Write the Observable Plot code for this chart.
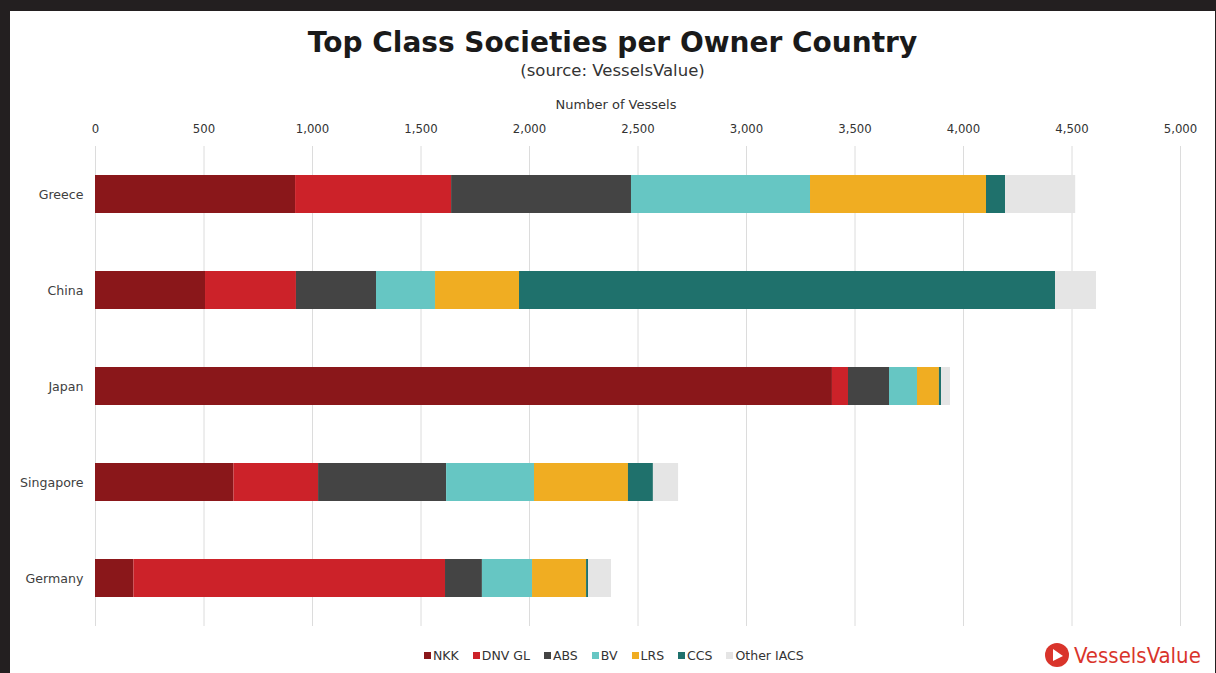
<!DOCTYPE html>
<html>
<head>
<meta charset="utf-8">
<script src="https://cdn.jsdelivr.net/npm/d3@7"></script>
<script src="https://cdn.jsdelivr.net/npm/@observablehq/plot@0.6"></script>
<style>
  html, body { margin: 0; padding: 0; background: #231F20; width: 1216px; height: 673px; overflow: hidden; }
  #panel { position: absolute; left: 10px; top: 11px; width: 1205px; height: 662px; background: #fff; font-family: "DejaVu Sans", sans-serif; color: #333; }
  #title { position: absolute; left: 0; width: 1205px; top: 15px; text-align: center; font-weight: bold; font-size: 28px; color: #1a1a1a; }
  #subtitle { position: absolute; left: 0; width: 1205px; top: 50px; text-align: center; font-size: 16.5px; color: #333; }
  #xlabel { position: absolute; left: 0; width: 1212px; text-align: center; top: 86px; font-size: 13px; color: #333; }
  #chart { position: absolute; left: 0; top: 79px; }
  #legend { position: absolute; left: 414px; top: 637px; display: flex; font-size: 12.5px; color: #333; align-items: center; }
  #legend .item { display: flex; align-items: center; margin-right: 14px; }
  #legend .sw { width: 7px; height: 7px; margin-right: 2px; }
  #logo { position: absolute; left: 1034px; top: 631px; display: flex; align-items: center; color: #D9342B; font-family: "DejaVu Sans Condensed", "DejaVu Sans", sans-serif; font-size: 22px; }
</style>
</head>
<body>
<div id="panel">
  <div id="title">Top Class Societies per Owner Country</div>
  <div id="subtitle">(source: VesselsValue)</div>
  <div id="xlabel">Number of Vessels</div>
  <div id="chart"></div>
  <div id="legend"></div>
  <div id="logo"><svg width="26" height="26" viewBox="0 0 26 26" style="margin-right:4px"><circle cx="13" cy="13" r="12" fill="#D9342B"/><path d="M9 7 L19 14 L9 19 Z" fill="#fff"/></svg><span>VesselsValue</span></div>
</div>
<script>
const countries = ["Greece", "China", "Japan", "Singapore", "Germany"];
const societies = ["NKK", "DNV GL", "ABS", "BV", "LRS", "CCS", "Other IACS"];
const colors = ["#8A171A", "#CC2229", "#444444", "#66C6C3", "#F0AD22", "#1F716C", "#E5E5E5"];
const NKK   = [922, 507, 3396, 638, 177];
const DNVGL = [719, 419, 74, 390, 1436];
const ABS   = [829, 369, 189, 590, 170];
const BV    = [825, 272, 129, 405, 231];
const LRS   = [811, 387, 101, 433, 249];
const CCS   = [88, 2470, 10, 115, 9];
const Other = [323, 189, 41, 116, 106];
const xTicks = [0, 500, 1000, 1500, 2000, 2500, 3000, 3500, 4000, 4500, 5000];

const series = [NKK, DNVGL, ABS, BV, LRS, CCS, Other];
const data = [];
societies.forEach((s, i) => {
  countries.forEach((c, j) => data.push({ country: c, society: s, value: series[i][j] }));
});

const chart = Plot.plot({
  width: 1205,
  height: 545,
  marginLeft: 85,
  marginRight: 35,
  marginTop: 56,
  marginBottom: 9,
  style: { fontFamily: '"DejaVu Sans Condensed", "DejaVu Sans", sans-serif', fontSize: "12px", color: "#333", background: "transparent" },
  x: { domain: [0, 5000], label: null },
  y: { domain: countries, label: null, paddingInner: 0.6, paddingOuter: 0.3 },
  color: { domain: societies, range: colors },
  marks: [
    Plot.gridX(xTicks, { stroke: "#dcdcdc", strokeOpacity: 1 }),
    Plot.axisX(xTicks, { anchor: "top", tickSize: 0, tickPadding: 14, tickFormat: d3.format(","), label: null, fontSize: 13 }),
    Plot.axisY({ tickSize: 0, tickPadding: 12, label: null, fontSize: 12.6, fontFamily: '"DejaVu Sans", sans-serif', fill: "#404040" }),
    Plot.barX(data, Plot.stackX({ x: "value", y: "country", fill: "society", order: societies }))
  ]
});
document.getElementById("chart").appendChild(chart);

const legend = document.getElementById("legend");
societies.forEach((s, i) => {
  const item = document.createElement("div");
  item.className = "item";
  const sw = document.createElement("span");
  sw.className = "sw";
  sw.style.background = colors[i];
  const t = document.createElement("span");
  t.textContent = s;
  item.appendChild(sw);
  item.appendChild(t);
  legend.appendChild(item);
});
</script>
</body>
</html>
